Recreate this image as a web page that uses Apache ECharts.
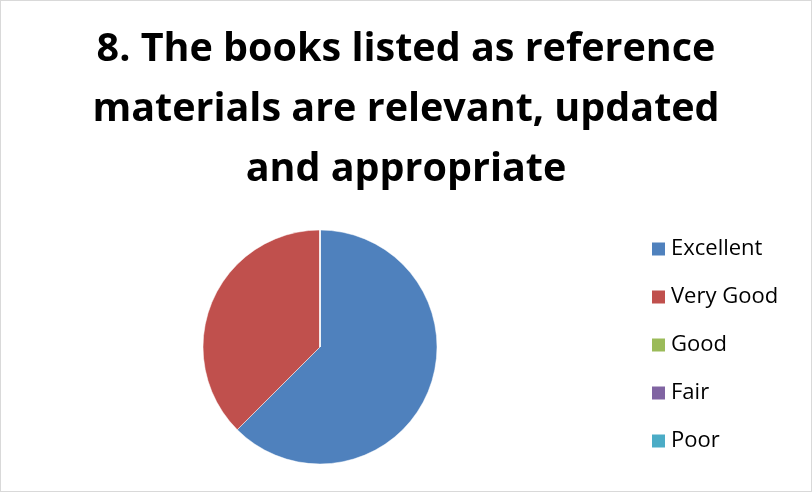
<!DOCTYPE html>
<html>
<head>
<meta charset="utf-8">
<script src="https://cdn.jsdelivr.net/npm/echarts@6/dist/echarts.min.js"></script>
<style>
  html, body { margin: 0; padding: 0; background: #fff; }
  #chart { width: 810px; height: 490px; border: 1px solid #d9d9d9; }
</style>
</head>
<body>
<div id="chart"></div>
<script>
var categories = ['Excellent', 'Very Good', 'Good', 'Fair', 'Poor'];
var counts = [25, 15, 0, 0, 0];
var colors = ['#4F81BD', '#C0504D', '#9BBB59', '#8064A2', '#4BACC6'];

var chart = echarts.init(document.getElementById('chart'));
chart.setOption({
  color: colors,
  animation: false,
  title: {
    text: '8. The books listed as reference\nmaterials are relevant, updated\nand appropriate',
    left: 'center',
    top: 14,
    textStyle: {
      fontFamily: 'Open Sans',
      fontWeight: 'bold',
      fontSize: 39.5,
      lineHeight: 60,
      color: '#000'
    }
  },
  legend: {
    orient: 'vertical',
    left: 649,
    top: 237,
    padding: 0,
    icon: 'rect',
    itemWidth: 15,
    itemHeight: 15,
    itemGap: 26,
    selectedMode: false,
    textStyle: { fontFamily: 'Open Sans', fontSize: 22, color: '#000' },
    data: categories
  },
  series: [
    {
      type: 'pie',
      center: [319, 346],
      radius: 117,
      startAngle: 90,
      label: { show: false },
      labelLine: { show: false },
      itemStyle: { borderColor: '#fff', borderWidth: 0.5 },
      emphasis: { disabled: true },
      data: categories.map(function (c, i) { return { name: c, value: counts[i] }; })
    }
  ]
});
</script>
</body>
</html>
